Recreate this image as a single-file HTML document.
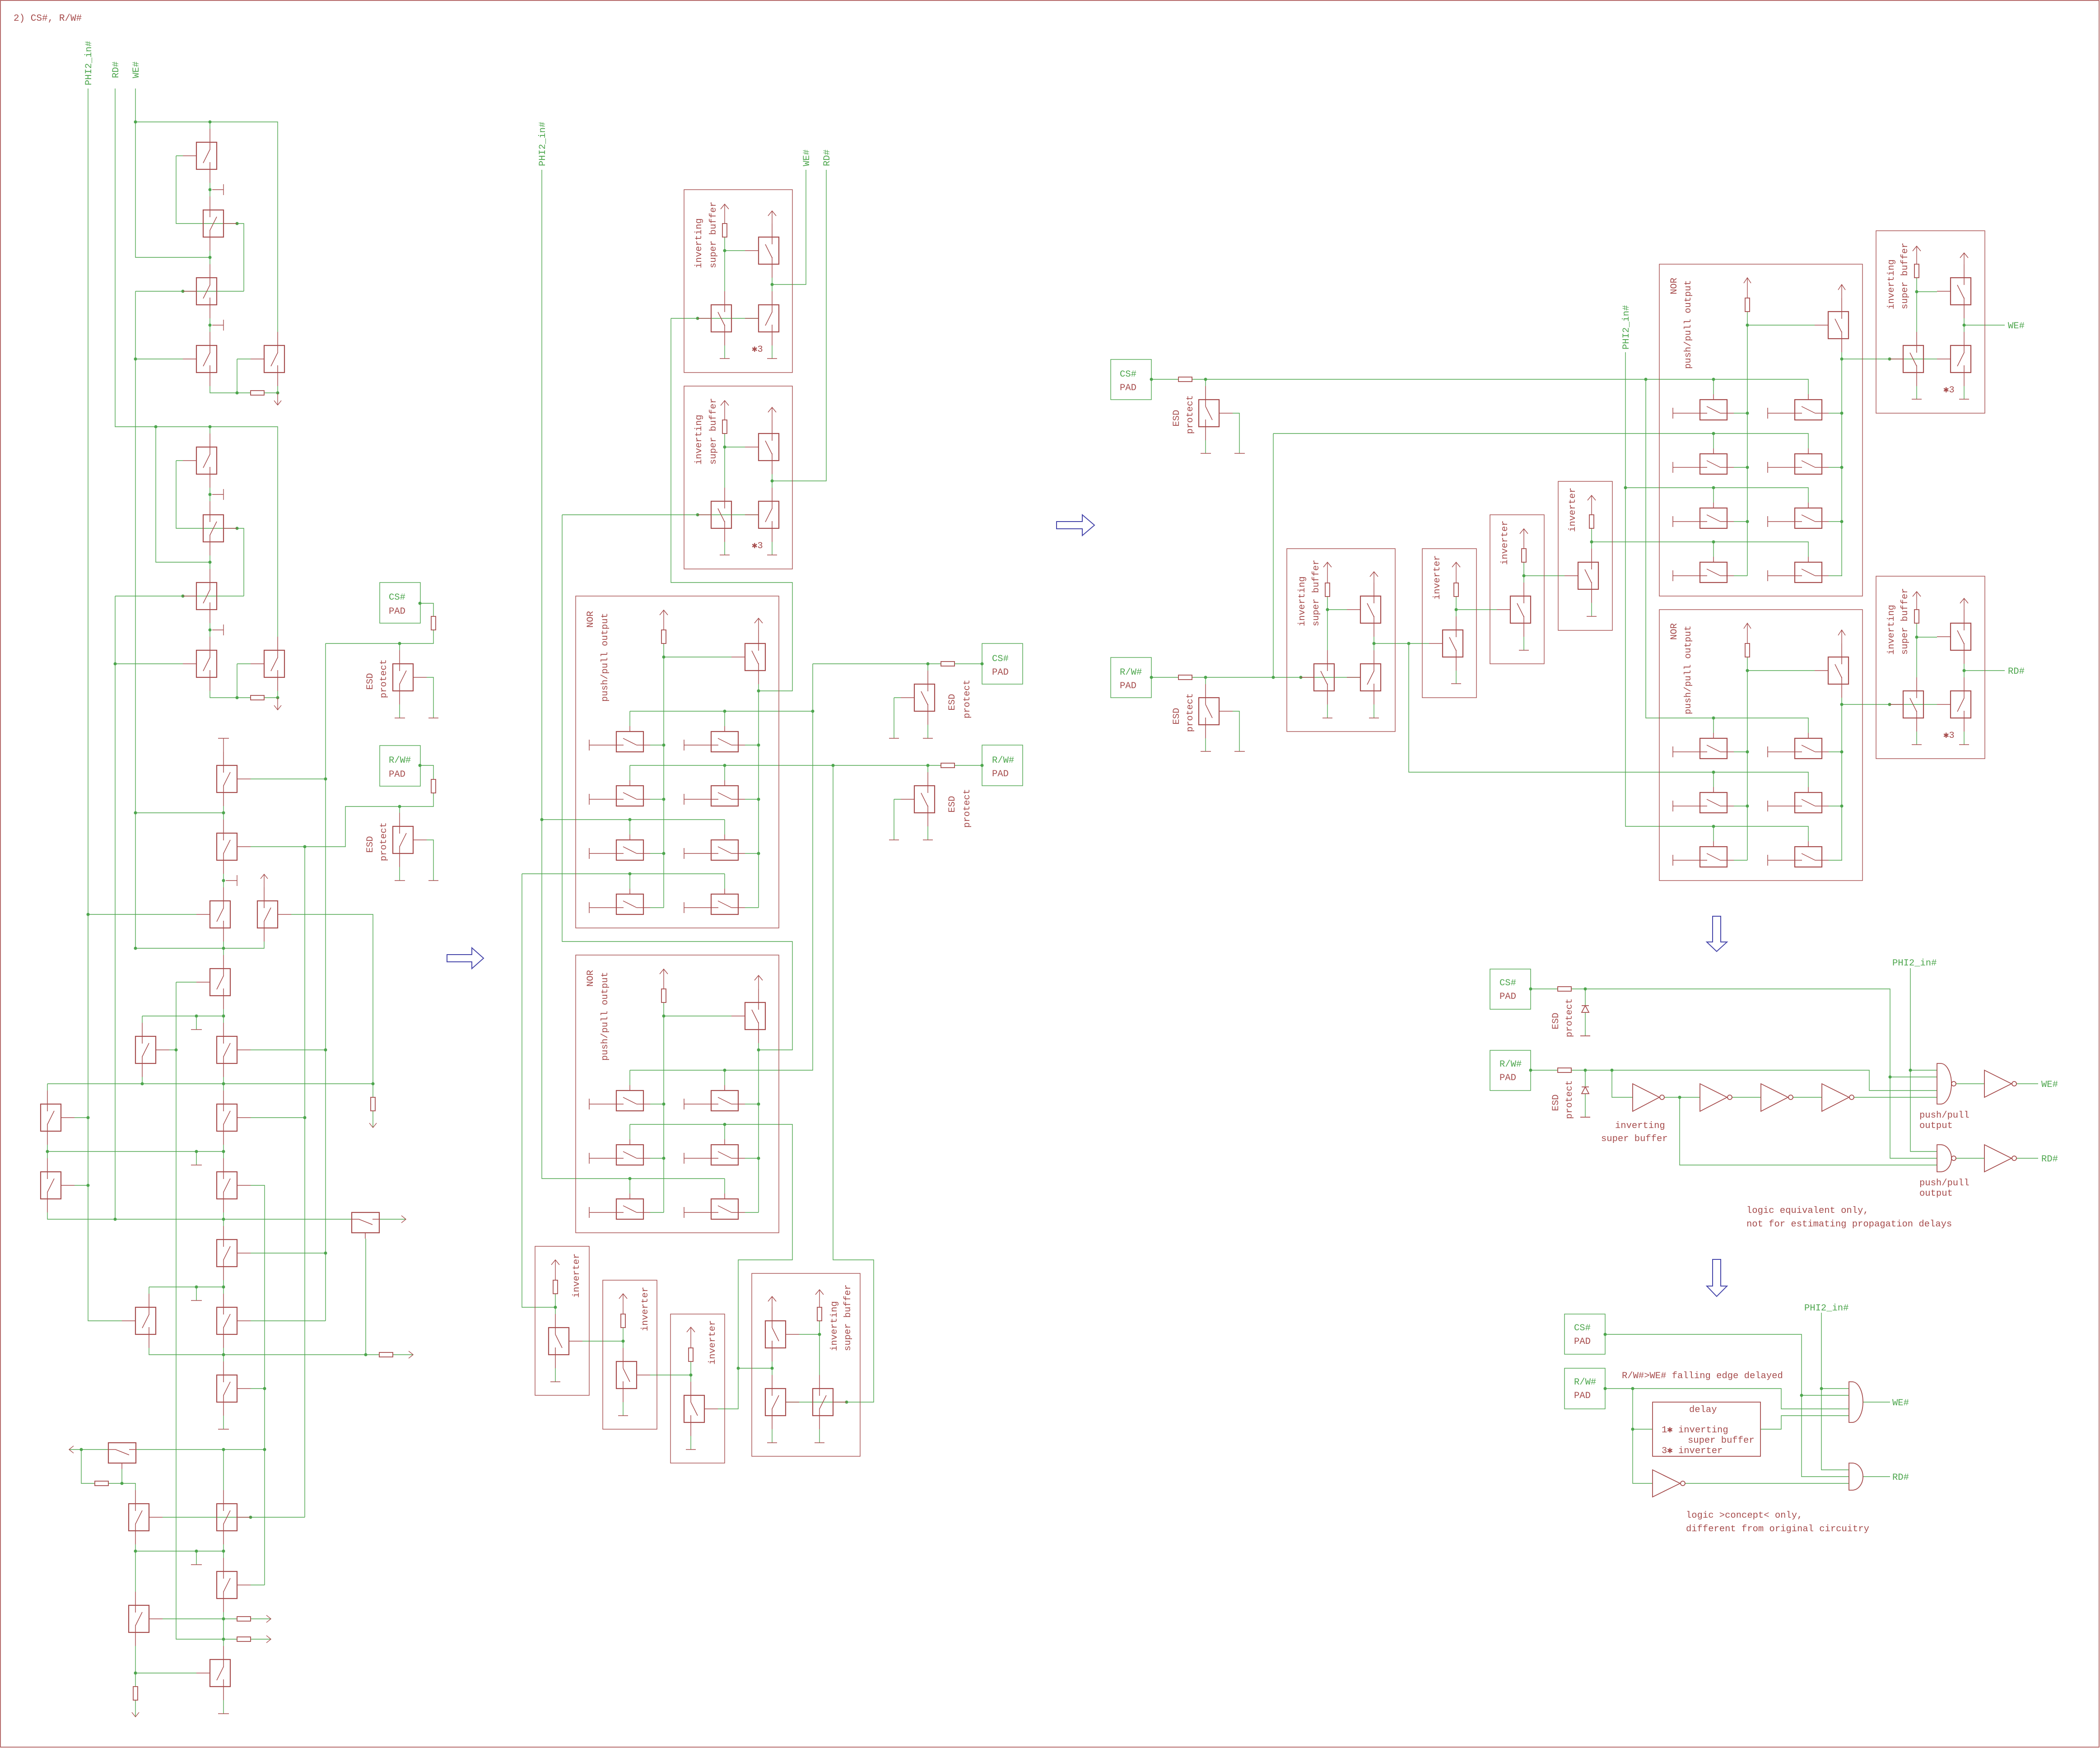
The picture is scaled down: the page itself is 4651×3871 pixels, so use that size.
<!DOCTYPE html>
<html><head><meta charset="utf-8"><style>
html,body{margin:0;padding:0;background:#fff;}
body{width:4651px;height:3871px;overflow:hidden;}
svg{display:block;}
</style></head><body>
<svg width="4651" height="3871" viewBox="0 0 4651 3871">
<defs>
<g id="GL" fill="none" stroke="#a64c4c"><rect width="45" height="60" stroke-width="2.2"/><path stroke-width="1.5" d="M30,-30V17M15,46L30,16M30,44V90M-30,30H0"/></g>
<g id="GR" fill="none" stroke="#a64c4c"><rect width="45" height="60" stroke-width="2.2"/><path stroke-width="1.5" d="M15,-30V16M15,45L30,15M15,44V90M45,30H75"/></g>
<g id="GLb" fill="none" stroke="#a64c4c"><rect width="45" height="60" stroke-width="2.2"/><path stroke-width="1.5" d="M30,-30V16M15,16L30,46M30,44V90M-30,30H0"/></g>
<g id="GRb" fill="none" stroke="#a64c4c"><rect width="45" height="60" stroke-width="2.2"/><path stroke-width="1.5" d="M15,-30V15M15,15L30,45M15,44V90M45,30H75"/></g>
<g id="HN" fill="none" stroke="#a64c4c"><rect width="60" height="45" stroke-width="2.2"/><path stroke-width="1.5" d="M-60,18V42M-60,30H16M15,15L45,30M45,30H75M30,0V-12"/><path stroke="#4da64d" stroke-width="1.4" d="M75,30H105"/></g>
<g id="HT" fill="none" stroke="#a64c4c"><rect width="61" height="45" stroke-width="2.2"/><path stroke-width="1.5" d="M0,15H16L46,27M46,15H61M30,45V58"/></g>
</defs>

<!-- frame -->
<rect x="1" y="1" width="4648" height="3868" fill="none" stroke="#a64c4c" stroke-width="1.6"/>

<!-- ================= GREEN WIRES ================= -->
<g fill="none" stroke="#4da64d" stroke-width="1.4">
<path d="M300,196V570H465M300,270H615V735M465,270V285M390,345H405M390,345V495H540V645M300,645H540M465,405V435M465,555V585M465,705V735M300,795H405M525,795H555M525,795V870M465,855V870H555M585,870H615V855M300,645V2100"/>
<path d="M255,196V945H615V1410M345,945V1245H465M465,945V960M390,1020H405M390,1020V1170H540V1320M255,1320H540M465,1080V1110M465,1230V1260M465,1380V1410M255,1470H405M525,1470H555M525,1470V1545M465,1530V1545H555M585,1545H615V1530M255,1320V2700"/>
<path d="M721,1425V2925M721,1425H960V1395M960,1365V1336H930M885,1425V1440M945,1500H960V1590M885,1560V1590M930,1695H960V1726M960,1756V1786H765V1875H555M885,1786V1800M945,1860H960V1950M885,1920V1950M675,1875V3360M555,1725H721M495,1785V1815M300,1800H495M495,1935V1965M195,2025H435M645,2025H826V2400M495,2085V2115M300,2100H585V2085M390,2175H435M390,2175V3630H525M495,2235V2265M315,2250H495M435,2250V2280M315,2250V2265M375,2325H390M555,2325H721M105,2400H826M315,2385V2400M495,2385V2415M826,2400V2430M826,2460V2497M105,2400V2415M165,2475H195M555,2475H675M105,2535V2565M105,2550H495M435,2550V2580M495,2535V2565M165,2625H195M555,2625H586V3510M105,2685V2700H779M840,2700H899M495,2685V2715M810,2743V3000M555,2775H721M330,2850H495M435,2850V2880M330,2850V2865M495,2835V2865M195,196V2925H270M555,2925H721M330,2985V3000H840M870,3000H915M495,2985V3015M555,3075H586M495,3135V3165M153,3210H240M300,3210H586M270,3253V3285M180,3210V3285H210M240,3285H300V3300M495,3210V3300M360,3360H675M300,3420V3525M300,3435H495M435,3435V3465M495,3420V3450M555,3510H586M360,3585H525M555,3585H600M495,3570V3645M555,3630H600M300,3705H435M495,3765V3795M300,3645V3735M300,3765V3802"/>
<path d="M1200,376V2610H1605M1200,1815H1605M1785,376V630H1710M1830,376V1065H1710M1605,525V645M1605,555H1650M1710,615V645M1486,705H1680M1486,705V1290H1755V1530H1680M1605,765V794M1710,765V794M1605,960V1080M1605,990H1650M1710,1050V1080M1245,1140H1680M1245,1140V2085H1755V2325H1680M1605,1200V1229M1710,1200V1229"/>
<path d="M1470,1425V2010M1470,1455H1620M1680,1515V2010M1395,1575H1800M1395,1575V1608M1605,1575V1608M1395,1695H2084M1395,1695V1728M1605,1695V1728M2114,1695H2175M1395,1815V1848M1605,1815V1848M1156,1935H1605M1395,1935V1968M1605,1935V1968M1156,1935V2895H1230"/>
<path d="M1470,2220V2685M1470,2250H1620M1680,2310V2685M1395,2370H1800V1470M1395,2370V2403M1605,2370V2403M1395,2490H1755V2790H1635V3120H1590M1395,2490V2523M1605,2490V2523M1395,2610V2643M1605,2610V2643"/>
<path d="M1800,1470H2084M2114,1470H2175M2055,1470V1485M1980,1545H1995M1980,1545V1635M2055,1605V1635M2055,1695V1710M1980,1770H1995M1980,1770V1860M2055,1830V1860M1845,1695V2790H1935V3105H1740"/>
<path d="M1230,2865V2910M1290,2970H1380M1230,3030V3060M1380,2940V2985M1440,3045H1530M1380,3105V3135M1530,3015V3060M1530,3180V3210M1635,3030H1710M1710,3015V3045M1770,2955H1815M1815,2925V3045M1710,3165V3195M1815,3165V3195"/>
<path d="M2550,840H2610M2640,840H4005V873M3795,840V873M2670,840V855M2730,915H2745V1004M2670,975V1004M2550,1500H2610M2640,1500H3013M2670,1500V1515M2730,1575H2745V1664M2670,1635V1664M2820,960V1500M2820,960H4005V993M3795,960V993"/>
<path d="M2940,1321V1440M2940,1350H2983M3043,1410V1440M3043,1425H3165M2940,1560V1590M3043,1560V1590M3225,1321V1365M3225,1350H3315M3225,1485V1514M3375,1245V1290M3375,1275H3465M3375,1410V1440M3525,1170V1215M3525,1200H4005V1233M3795,1200V1233M3525,1335V1365"/>
<path d="M3120,1425V1710H4005V1743M3795,1710V1743M3600,780V1830H4005V1863M3795,1830V1863M3600,1080H4005V1113M3795,1080V1113M3645,840V1590H4005V1623M3795,1590V1623"/>
<path d="M3870,690V1275M3870,720H4019M4079,780V1275M4079,795H4290M3870,1455V1905M3870,1485H4019M4079,1545V1905M4079,1560H4290"/>
<path d="M4245,615V735M4245,646H4290M4350,705V735M4350,720H4440M4245,855V884M4350,855V884M4245,1380V1500M4245,1411H4290M4350,1470V1500M4350,1485H4440M4245,1620V1649M4350,1620V1649"/>
<path d="M3390,2190H3450M3480,2190H4186V2565H4290M4186,2385H4290M3511,2190V2227M3511,2242V2294M3390,2370H3450M3480,2370H4140V2415H4290M3511,2370V2407M3511,2422V2474M3570,2370V2430H3616M3686,2430H3765M3836,2430H3900M3971,2430H4035M4106,2430H4290M3720,2430V2580H4290M4231,2144V2550H4290M4231,2370H4290M4332,2400H4395M4466,2400H4514M4332,2565H4395M4466,2565H4514"/>
<path d="M3555,2955H3990V3270H4095M3990,3090H4095M3555,3075H3945V3120H4095M3616,3075V3285H3660M3616,3165H3660M3899,3165H3945V3135H4095M4034,2907V3255H4095M4034,3075H4095M4126,3105H4186M4126,3270H4186M3732,3285H4095"/>
<rect x="841" y="1290" width="90" height="90"/><rect x="841" y="1651" width="90" height="90"/>
<rect x="2175" y="1425" width="90" height="90"/><rect x="2175" y="1650" width="90" height="90"/>
<rect x="2460" y="796" width="90" height="89"/><rect x="2460" y="1456" width="90" height="89"/>
<rect x="3300" y="2146" width="90" height="89"/><rect x="3300" y="2326" width="90" height="89"/>
<rect x="3465" y="2910" width="90" height="89"/><rect x="3465" y="3030" width="90" height="90"/>
</g>

<!-- ================= DOTS ================= -->
<g fill="#4da64d">
<circle cx="300" cy="270" r="3.5"/><circle cx="465" cy="270" r="3.5"/><circle cx="525" cy="495" r="3.5"/><circle cx="465" cy="420" r="3.5"/><circle cx="465" cy="570" r="3.5"/><circle cx="405" cy="645" r="3.5"/><circle cx="465" cy="720" r="3.5"/><circle cx="300" cy="795" r="3.5"/><circle cx="525" cy="870" r="3.5"/><circle cx="615" cy="870" r="3.5"/>
<circle cx="345" cy="945" r="3.5"/><circle cx="465" cy="945" r="3.5"/><circle cx="465" cy="1095" r="3.5"/><circle cx="525" cy="1170" r="3.5"/><circle cx="465" cy="1245" r="3.5"/><circle cx="405" cy="1320" r="3.5"/><circle cx="465" cy="1395" r="3.5"/><circle cx="255" cy="1470" r="3.5"/><circle cx="525" cy="1545" r="3.5"/><circle cx="615" cy="1545" r="3.5"/>
<circle cx="930" cy="1336" r="3.5"/><circle cx="885" cy="1425" r="3.5"/><circle cx="930" cy="1695" r="3.5"/><circle cx="885" cy="1786" r="3.5"/><circle cx="675" cy="1875" r="3.5"/><circle cx="721" cy="1725" r="3.5"/><circle cx="495" cy="1800" r="3.5"/><circle cx="300" cy="1800" r="3.5"/><circle cx="495" cy="1950" r="3.5"/><circle cx="195" cy="2025" r="3.5"/><circle cx="495" cy="2100" r="3.5"/><circle cx="300" cy="2100" r="3.5"/><circle cx="495" cy="2250" r="3.5"/><circle cx="435" cy="2250" r="3.5"/><circle cx="390" cy="2325" r="3.5"/><circle cx="721" cy="2325" r="3.5"/><circle cx="315" cy="2400" r="3.5"/><circle cx="495" cy="2400" r="3.5"/><circle cx="826" cy="2400" r="3.5"/><circle cx="195" cy="2475" r="3.5"/><circle cx="675" cy="2475" r="3.5"/><circle cx="105" cy="2550" r="3.5"/><circle cx="435" cy="2550" r="3.5"/><circle cx="495" cy="2550" r="3.5"/><circle cx="195" cy="2625" r="3.5"/><circle cx="255" cy="2700" r="3.5"/><circle cx="495" cy="2700" r="3.5"/><circle cx="721" cy="2775" r="3.5"/><circle cx="435" cy="2850" r="3.5"/><circle cx="495" cy="2850" r="3.5"/><circle cx="495" cy="3000" r="3.5"/><circle cx="810" cy="3000" r="3.5"/><circle cx="586" cy="3075" r="3.5"/><circle cx="180" cy="3210" r="3.5"/><circle cx="495" cy="3210" r="3.5"/><circle cx="586" cy="3210" r="3.5"/><circle cx="270" cy="3285" r="3.5"/><circle cx="555" cy="3360" r="3.5"/><circle cx="300" cy="3435" r="3.5"/><circle cx="435" cy="3435" r="3.5"/><circle cx="495" cy="3435" r="3.5"/><circle cx="495" cy="3585" r="3.5"/><circle cx="495" cy="3630" r="3.5"/><circle cx="300" cy="3705" r="3.5"/>
<circle cx="1710" cy="630" r="3.5"/><circle cx="1605" cy="555" r="3.5"/><circle cx="1545" cy="705" r="3.5"/><circle cx="1710" cy="1065" r="3.5"/><circle cx="1605" cy="990" r="3.5"/><circle cx="1545" cy="1140" r="3.5"/><circle cx="1470" cy="1455" r="3.5"/><circle cx="1680" cy="1530" r="3.5"/><circle cx="1605" cy="1575" r="3.5"/><circle cx="1800" cy="1575" r="3.5"/><circle cx="1470" cy="1650" r="3.5"/><circle cx="1680" cy="1650" r="3.5"/><circle cx="1605" cy="1695" r="3.5"/><circle cx="1845" cy="1695" r="3.5"/><circle cx="2055" cy="1695" r="3.5"/><circle cx="2175" cy="1695" r="3.5"/><circle cx="1470" cy="1770" r="3.5"/><circle cx="1680" cy="1770" r="3.5"/><circle cx="1200" cy="1815" r="3.5"/><circle cx="1395" cy="1815" r="3.5"/><circle cx="1470" cy="1890" r="3.5"/><circle cx="1680" cy="1890" r="3.5"/><circle cx="1395" cy="1935" r="3.5"/><circle cx="2055" cy="1470" r="3.5"/><circle cx="2175" cy="1470" r="3.5"/>
<circle cx="1470" cy="2250" r="3.5"/><circle cx="1680" cy="2325" r="3.5"/><circle cx="1605" cy="2370" r="3.5"/><circle cx="1470" cy="2445" r="3.5"/><circle cx="1680" cy="2445" r="3.5"/><circle cx="1605" cy="2490" r="3.5"/><circle cx="1470" cy="2565" r="3.5"/><circle cx="1680" cy="2565" r="3.5"/><circle cx="1395" cy="2610" r="3.5"/>
<circle cx="1230" cy="2895" r="3.5"/><circle cx="1380" cy="2970" r="3.5"/><circle cx="1530" cy="3045" r="3.5"/><circle cx="1635" cy="3030" r="3.5"/><circle cx="1710" cy="3030" r="3.5"/><circle cx="1815" cy="2955" r="3.5"/><circle cx="1875" cy="3105" r="3.5"/>
<circle cx="2550" cy="840" r="3.5"/><circle cx="2670" cy="840" r="3.5"/><circle cx="3645" cy="840" r="3.5"/><circle cx="3795" cy="840" r="3.5"/><circle cx="3795" cy="960" r="3.5"/><circle cx="2550" cy="1500" r="3.5"/><circle cx="2670" cy="1500" r="3.5"/><circle cx="2820" cy="1500" r="3.5"/><circle cx="2881" cy="1500" r="3.5"/><circle cx="2940" cy="1350" r="3.5"/><circle cx="3043" cy="1425" r="3.5"/><circle cx="3120" cy="1425" r="3.5"/><circle cx="3225" cy="1350" r="3.5"/><circle cx="3375" cy="1275" r="3.5"/><circle cx="3525" cy="1200" r="3.5"/><circle cx="3795" cy="1200" r="3.5"/><circle cx="3600" cy="1080" r="3.5"/><circle cx="3795" cy="1080" r="3.5"/><circle cx="3795" cy="1590" r="3.5"/><circle cx="3795" cy="1710" r="3.5"/><circle cx="3795" cy="1830" r="3.5"/>
<circle cx="3870" cy="720" r="3.5"/><circle cx="4079" cy="795" r="3.5"/><circle cx="4185" cy="795" r="3.5"/><circle cx="3870" cy="915" r="3.5"/><circle cx="4079" cy="915" r="3.5"/><circle cx="3870" cy="1035" r="3.5"/><circle cx="4079" cy="1035" r="3.5"/><circle cx="3870" cy="1155" r="3.5"/><circle cx="4079" cy="1155" r="3.5"/><circle cx="3870" cy="1485" r="3.5"/><circle cx="4079" cy="1560" r="3.5"/><circle cx="4185" cy="1560" r="3.5"/><circle cx="3870" cy="1665" r="3.5"/><circle cx="4079" cy="1665" r="3.5"/><circle cx="3870" cy="1785" r="3.5"/><circle cx="4079" cy="1785" r="3.5"/><circle cx="4245" cy="646" r="3.5"/><circle cx="4350" cy="720" r="3.5"/><circle cx="4245" cy="1411" r="3.5"/><circle cx="4350" cy="1485" r="3.5"/>
<circle cx="3390" cy="2190" r="3.5"/><circle cx="3511" cy="2190" r="3.5"/><circle cx="4186" cy="2385" r="3.5"/><circle cx="3390" cy="2370" r="3.5"/><circle cx="3511" cy="2370" r="3.5"/><circle cx="3570" cy="2370" r="3.5"/><circle cx="3720" cy="2430" r="3.5"/><circle cx="4231" cy="2370" r="3.5"/><circle cx="3555" cy="2955" r="3.5"/><circle cx="3990" cy="3090" r="3.5"/><circle cx="3555" cy="3075" r="3.5"/><circle cx="3616" cy="3075" r="3.5"/><circle cx="3616" cy="3165" r="3.5"/><circle cx="4034" cy="3075" r="3.5"/>
</g>

<!-- ================= RED: boxes, resistors, symbols ================= -->
<g fill="none" stroke="#a64c4c" stroke-width="1.4">
<rect x="1515" y="420" width="240" height="405"/><rect x="1515" y="855" width="240" height="405"/>
<rect x="1275" y="1320" width="450" height="735"/><rect x="1275" y="2115" width="450" height="615"/>
<rect x="1185" y="2760" width="120" height="330"/><rect x="1335" y="2835" width="120" height="330"/><rect x="1485" y="2910" width="120" height="330"/><rect x="1665" y="2820" width="240" height="405"/>
<rect x="2850" y="1215" width="240" height="405"/><rect x="3150" y="1215" width="120" height="330"/><rect x="3300" y="1140" width="120" height="330"/><rect x="3451" y="1066" width="120" height="330"/>
<rect x="3675" y="585" width="450" height="735"/><rect x="3675" y="1350" width="450" height="600"/>
<rect x="4155" y="511" width="241" height="404"/><rect x="4155" y="1276" width="241" height="404"/>
<rect x="3660" y="3105" width="239" height="120" stroke-width="1.8"/>
<g stroke-width="1.8">
<rect x="555" y="865" width="30" height="10"/><rect x="555" y="1540" width="30" height="10"/><rect x="955" y="1365" width="10" height="30"/><rect x="955" y="1726" width="10" height="30"/><rect x="821" y="2430" width="10" height="30"/><rect x="840" y="2995" width="30" height="10"/><rect x="210" y="3280" width="30" height="10"/><rect x="525" y="3580" width="30" height="10"/><rect x="525" y="3625" width="30" height="10"/><rect x="295" y="3735" width="10" height="30"/>
<rect x="1600" y="495" width="10" height="30"/><rect x="1600" y="930" width="10" height="30"/><rect x="1465" y="1395" width="10" height="30"/><rect x="1465" y="2190" width="10" height="30"/><rect x="2084" y="1465" width="30" height="10"/><rect x="2084" y="1690" width="30" height="10"/><rect x="1225" y="2835" width="10" height="30"/><rect x="1375" y="2910" width="10" height="30"/><rect x="1525" y="2985" width="10" height="30"/><rect x="1810" y="2895" width="10" height="30"/>
<rect x="2610" y="835" width="30" height="10"/><rect x="2610" y="1495" width="30" height="10"/><rect x="2935" y="1291" width="10" height="30"/><rect x="3220" y="1291" width="10" height="30"/><rect x="3370" y="1215" width="10" height="30"/><rect x="3520" y="1140" width="10" height="30"/><rect x="3865" y="660" width="10" height="30"/><rect x="3865" y="1425" width="10" height="30"/><rect x="4240" y="585" width="10" height="30"/><rect x="4240" y="1350" width="10" height="30"/>
<rect x="3450" y="2185" width="30" height="10"/><rect x="3450" y="2365" width="30" height="10"/>
</g>
<path d="M470,420H495M495,408V432M470,720H495M495,708V732M470,1095H495M495,1083V1107M470,1395H495M495,1383V1407M500,1950H525M525,1938V1962M615,870V897M607,887L615,897L623,887M615,1545V1572M607,1562L615,1572L623,1562M818,2487L826,2497L834,2487M292,3792L300,3802L308,3792M889,2692L899,2700L889,2708M905,2992L915,3000L905,3008M590,3577L600,3585L590,3593M590,3622L600,3630L590,3638M163,3202L153,3210L163,3218M585,1936V1965M577,1946L585,1936L593,1946M874,1590H897M949,1590H971M874,1950H897M949,1950H971M483,1635H507M495,1635V1665M423,2280H447M423,2580H447M423,2880H447M423,3465H447M483,3165H507M483,3795H507"/>
<path d="M1605,452V495M1596,463L1605,452L1614,463M1710,467V495M1701,478L1710,467L1719,478M1605,887V930M1596,898L1605,887L1614,898M1710,902V930M1701,913L1710,902L1719,913M1470,1351V1395M1461,1362L1470,1351L1479,1362M1680,1369V1395M1671,1380L1680,1369L1689,1380M1470,2146V2190M1461,2157L1470,2146L1479,2157M1680,2160V2190M1671,2171L1680,2160L1689,2171M1230,2790V2835M1221,2801L1230,2790L1239,2801M1380,2865V2910M1371,2876L1380,2865L1389,2876M1530,2939V2985M1521,2950L1530,2939L1539,2950M1710,2871V2895M1701,2882L1710,2871L1719,2882M1815,2856V2895M1806,2867L1815,2856L1824,2867"/>
<path d="M1594,794H1616M1699,794H1721M1594,1229H1616M1699,1229H1721M1969,1635H1991M2044,1635H2066M1969,1860H1991M2044,1860H2066M1219,3060H1241M1369,3135H1391M1519,3210H1541M1699,3195H1721M1804,3195H1826"/>
<path d="M2940,1245V1291M2931,1256L2940,1245L2949,1256M3043,1266V1290M3034,1277L3043,1266L3052,1277M3225,1245V1291M3216,1256L3225,1245L3234,1256M3375,1171V1215M3366,1182L3375,1171L3384,1182M3525,1097V1140M3516,1108L3525,1097L3534,1108M3870,615V660M3862,627L3870,615L3878,627M4079,630V660M4071,642L4079,630L4087,642M3870,1380V1425M3862,1392L3870,1380L3878,1392M4079,1395V1425M4071,1407L4079,1395L4087,1407M4245,545V585M4236,556L4245,545L4254,556M4350,560V585M4341,571L4350,560L4359,571M4245,1310V1350M4236,1321L4245,1310L4254,1321M4350,1325V1350M4341,1336L4350,1325L4359,1336"/>
<path d="M2659,1004H2682M2734,1004H2757M2659,1664H2682M2734,1664H2757M2929,1590H2951M3032,1590H3054M3214,1514H3236M3364,1440H3386M3514,1365H3536M4234,884H4256M4339,884H4361M4234,1649H4256M4339,1649H4361"/>
<g stroke-width="1.8">
<path d="M3503,2227H3519M3503,2242H3519L3511,2227ZM3500,2294H3522M3503,2407H3519M3503,2422H3519L3511,2407ZM3500,2474H3522"/>
<path d="M3616,2400L3675,2430L3616,2461ZM3765,2400L3825,2430L3765,2461ZM3900,2400L3960,2430L3900,2461ZM4035,2400L4095,2430L4035,2461Z"/>
<circle cx="3681" cy="2430" r="5"/><circle cx="3831" cy="2430" r="5"/><circle cx="3966" cy="2430" r="5"/><circle cx="4101" cy="2430" r="5"/>
<path d="M4290,2355H4298A24,45 0 0 1 4298,2445H4290ZM4290,2535H4298A24,30 0 0 1 4298,2595H4290Z"/>
<circle cx="4327" cy="2400" r="5"/><circle cx="4327" cy="2565" r="5"/>
<path d="M4395,2370L4455,2400L4395,2430ZM4395,2535L4455,2565L4395,2595Z"/>
<circle cx="4461" cy="2400" r="5"/><circle cx="4461" cy="2565" r="5"/>
<path d="M4095,3060H4102A24,45 0 0 1 4102,3150H4095ZM4095,3240H4102A24,30 0 0 1 4102,3300H4095Z"/>
<path d="M3660,3255L3721,3285L3660,3315Z"/><circle cx="3727" cy="3285" r="5"/>
</g>
</g>

<!-- ================= TRANSISTORS ================= -->
<use href="#GL" x="435" y="315"/><use href="#GR" x="450" y="465"/><use href="#GL" x="435" y="615"/><use href="#GL" x="435" y="765"/><use href="#GL" x="585" y="765"/>
<use href="#GL" x="435" y="990"/><use href="#GR" x="450" y="1140"/><use href="#GL" x="435" y="1290"/><use href="#GL" x="435" y="1440"/><use href="#GL" x="585" y="1440"/>
<use href="#GR" x="480" y="1695"/><use href="#GR" x="870" y="1470"/><use href="#GR" x="870" y="1830"/><use href="#GR" x="480" y="1845"/><use href="#GL" x="465" y="1995"/><use href="#GR" x="570" y="1995"/><use href="#GL" x="465" y="2145"/><use href="#GR" x="300" y="2295"/><use href="#GR" x="480" y="2295"/><use href="#GR" x="90" y="2445"/><use href="#GR" x="480" y="2445"/><use href="#GR" x="90" y="2595"/><use href="#GR" x="480" y="2595"/><use href="#HT" x="779" y="2685"/><use href="#GR" x="480" y="2745"/><use href="#GL" x="300" y="2895"/><use href="#GR" x="480" y="2895"/><use href="#GR" x="480" y="3045"/><use href="#HT" x="240" y="3195"/><use href="#GR" x="285" y="3330"/><use href="#GR" x="480" y="3330"/><use href="#GR" x="480" y="3480"/><use href="#GR" x="285" y="3555"/><use href="#GL" x="465" y="3675"/>
<use href="#GLb" x="1680" y="525"/><use href="#GL" x="1680" y="675"/><use href="#GLb" x="1575" y="675"/>
<use href="#GLb" x="1680" y="960"/><use href="#GL" x="1680" y="1110"/><use href="#GLb" x="1575" y="1110"/>
<use href="#GLb" x="1650" y="1425"/><use href="#GLb" x="1650" y="2220"/>
<use href="#HN" x="1365" y="1620"/><use href="#HN" x="1575" y="1620"/><use href="#HN" x="1365" y="1740"/><use href="#HN" x="1575" y="1740"/><use href="#HN" x="1365" y="1860"/><use href="#HN" x="1575" y="1860"/><use href="#HN" x="1365" y="1980"/><use href="#HN" x="1575" y="1980"/>
<use href="#HN" x="1365" y="2415"/><use href="#HN" x="1575" y="2415"/><use href="#HN" x="1365" y="2535"/><use href="#HN" x="1575" y="2535"/><use href="#HN" x="1365" y="2655"/><use href="#HN" x="1575" y="2655"/>
<use href="#GLb" x="2025" y="1515"/><use href="#GLb" x="2025" y="1740"/>
<use href="#GRb" x="1215" y="2940"/><use href="#GRb" x="1365" y="3015"/><use href="#GRb" x="1515" y="3090"/>
<use href="#GRb" x="1695" y="2925"/><use href="#GR" x="1695" y="3075"/><use href="#GR" x="1800" y="3075"/>
<use href="#GRb" x="2655" y="885"/><use href="#GRb" x="2655" y="1545"/>
<use href="#GLb" x="3013" y="1320"/><use href="#GLb" x="2910" y="1470"/><use href="#GL" x="3013" y="1470"/>
<use href="#GLb" x="3195" y="1395"/><use href="#GLb" x="3345" y="1320"/><use href="#GLb" x="3495" y="1245"/>
<use href="#GLb" x="4049" y="690"/><use href="#GLb" x="4049" y="1455"/>
<use href="#HN" x="3765" y="885"/><use href="#HN" x="3975" y="885"/><use href="#HN" x="3765" y="1005"/><use href="#HN" x="3975" y="1005"/><use href="#HN" x="3765" y="1125"/><use href="#HN" x="3975" y="1125"/><use href="#HN" x="3765" y="1245"/><use href="#HN" x="3975" y="1245"/>
<use href="#HN" x="3765" y="1635"/><use href="#HN" x="3975" y="1635"/><use href="#HN" x="3765" y="1755"/><use href="#HN" x="3975" y="1755"/><use href="#HN" x="3765" y="1875"/><use href="#HN" x="3975" y="1875"/>
<use href="#GLb" x="4320" y="615"/><use href="#GLb" x="4215" y="765"/><use href="#GL" x="4320" y="765"/>
<use href="#GLb" x="4320" y="1380"/><use href="#GLb" x="4215" y="1530"/><use href="#GL" x="4320" y="1530"/>

<!-- blue arrows -->
<g fill="none" stroke="#4646aa" stroke-width="2">
<path d="M990,2114H1045V2099L1071,2122L1045,2145V2130H990Z"/>
<path d="M2340,1155H2397V1140L2424,1163L2397,1186V1171H2340Z"/>
<path d="M3793,2029V2086H3780L3802,2107L3825,2086H3811V2029Z"/>
<path d="M3793,2789V2848H3780L3802,2871L3825,2848H3811V2789Z"/>
</g>

<!-- ================= TEXT ================= -->
<g font-family="'Liberation Mono','DejaVu Sans Mono',monospace" font-size="20.5">
<g fill="#4da64d">
<text transform="translate(202,189) rotate(-90)">PHI2_in#</text>
<text transform="translate(262,173) rotate(-90)">RD#</text>
<text transform="translate(307,173) rotate(-90)">WE#</text>
<text x="861" y="1328">CS#</text><text x="861" y="1689">R/W#</text>
<text transform="translate(1207,368) rotate(-90)">PHI2_in#</text>
<text transform="translate(1792,368) rotate(-90)">WE#</text>
<text transform="translate(1837,368) rotate(-90)">RD#</text>
<text x="2197" y="1464">CS#</text><text x="2197" y="1689">R/W#</text>
<text x="2480" y="834">CS#</text><text x="2480" y="1494">R/W#</text>
<text transform="translate(3607,774) rotate(-90)">PHI2_in#</text>
<text x="4447" y="727">WE#</text><text x="4447" y="1492">RD#</text>
<text x="3321" y="2182">CS#</text><text x="3321" y="2362">R/W#</text>
<text x="4191" y="2138">PHI2_in#</text>
<text x="4521" y="2407">WE#</text><text x="4521" y="2572">RD#</text>
<text x="3486" y="2946">CS#</text><text x="3486" y="3066">R/W#</text>
<text x="3996" y="2902">PHI2_in#</text>
<text x="4191" y="3112">WE#</text><text x="4191" y="3277">RD#</text>
</g>
<g fill="#a64c4c">
<text x="30" y="46" font-size="21">2) CS#, R/W#</text>
<text x="861" y="1359">PAD</text><text x="861" y="1720">PAD</text>
<text text-anchor="middle" transform="translate(825,1509) rotate(-90)">ESD</text>
<text text-anchor="middle" transform="translate(855,1503) rotate(-90)">protect</text>
<text text-anchor="middle" transform="translate(825,1870) rotate(-90)">ESD</text>
<text text-anchor="middle" transform="translate(855,1864) rotate(-90)">protect</text>
<text transform="translate(1553,594) rotate(-90)">inverting</text>
<text transform="translate(1585,594) rotate(-90)">super buffer</text>
<text transform="translate(1553,1029) rotate(-90)">inverting</text>
<text transform="translate(1585,1029) rotate(-90)">super buffer</text>
<text x="1665" y="779">✱3</text><text x="1665" y="1214">✱3</text>
<text transform="translate(1313,1390) rotate(-90)">NOR</text>
<text transform="translate(1345,1554) rotate(-90)">push/pull output</text>
<text transform="translate(1313,2185) rotate(-90)">NOR</text>
<text transform="translate(1345,2349) rotate(-90)">push/pull output</text>
<text x="2197" y="1494">PAD</text><text x="2197" y="1719">PAD</text>
<text text-anchor="middle" transform="translate(2114,1555) rotate(-90)">ESD</text>
<text text-anchor="middle" transform="translate(2147,1548) rotate(-90)">protect</text>
<text text-anchor="middle" transform="translate(2114,1781) rotate(-90)">ESD</text>
<text text-anchor="middle" transform="translate(2147,1790) rotate(-90)">protect</text>
<text transform="translate(1282,2874) rotate(-90)">inverter</text>
<text transform="translate(1434,2948) rotate(-90)">inverter</text>
<text transform="translate(1583,3022) rotate(-90)">inverter</text>
<text transform="translate(1853,2992) rotate(-90)">inverting</text>
<text transform="translate(1883,2992) rotate(-90)">super buffer</text>
<text x="2480" y="864">PAD</text><text x="2480" y="1524">PAD</text>
<text text-anchor="middle" transform="translate(2611,926) rotate(-90)">ESD</text>
<text text-anchor="middle" transform="translate(2641,918) rotate(-90)">protect</text>
<text text-anchor="middle" transform="translate(2611,1586) rotate(-90)">ESD</text>
<text text-anchor="middle" transform="translate(2641,1578) rotate(-90)">protect</text>
<text transform="translate(2889,1387) rotate(-90)">inverting</text>
<text transform="translate(2920,1387) rotate(-90)">super buffer</text>
<text transform="translate(3188,1328) rotate(-90)">inverter</text>
<text transform="translate(3338,1251) rotate(-90)">inverter</text>
<text transform="translate(3488,1178) rotate(-90)">inverter</text>
<text transform="translate(3713,652) rotate(-90)">NOR</text>
<text transform="translate(3744,817) rotate(-90)">push/pull output</text>
<text transform="translate(3713,1417) rotate(-90)">NOR</text>
<text transform="translate(3744,1582) rotate(-90)">push/pull output</text>
<text transform="translate(4194,685) rotate(-90)">inverting</text>
<text transform="translate(4224,685) rotate(-90)">super buffer</text>
<text x="4304" y="869">✱3</text>
<text transform="translate(4194,1450) rotate(-90)">inverting</text>
<text transform="translate(4224,1450) rotate(-90)">super buffer</text>
<text x="4304" y="1634">✱3</text>
<text x="3321" y="2212">PAD</text><text x="3321" y="2392">PAD</text>
<text text-anchor="middle" transform="translate(3451,2261) rotate(-90)">ESD</text>
<text text-anchor="middle" transform="translate(3481,2254) rotate(-90)">protect</text>
<text text-anchor="middle" transform="translate(3451,2442) rotate(-90)">ESD</text>
<text text-anchor="middle" transform="translate(3481,2435) rotate(-90)">protect</text>
<text x="3577" y="2498">inverting</text>
<text x="3546" y="2527">super buffer</text>
<text x="4251" y="2475">push/pull</text><text x="4251" y="2498">output</text>
<text x="4251" y="2625">push/pull</text><text x="4251" y="2648">output</text>
<text x="3868" y="2686">logic equivalent only,</text>
<text x="3868" y="2716">not for estimating propagation delays</text>
<text x="3486" y="2976">PAD</text><text x="3486" y="3096">PAD</text>
<text x="3592" y="3052">R/W#&gt;WE# falling edge delayed</text>
<text x="3741" y="3127">delay</text>
<text x="3680" y="3172">1✱ inverting</text>
<text x="3738" y="3195">super buffer</text>
<text x="3680" y="3218">3✱ inverter</text>
<text x="3734" y="3361">logic &gt;concept&lt; only,</text>
<text x="3734" y="3391">different from original circuitry</text>
</g>
</g>
</svg>
</body></html>
